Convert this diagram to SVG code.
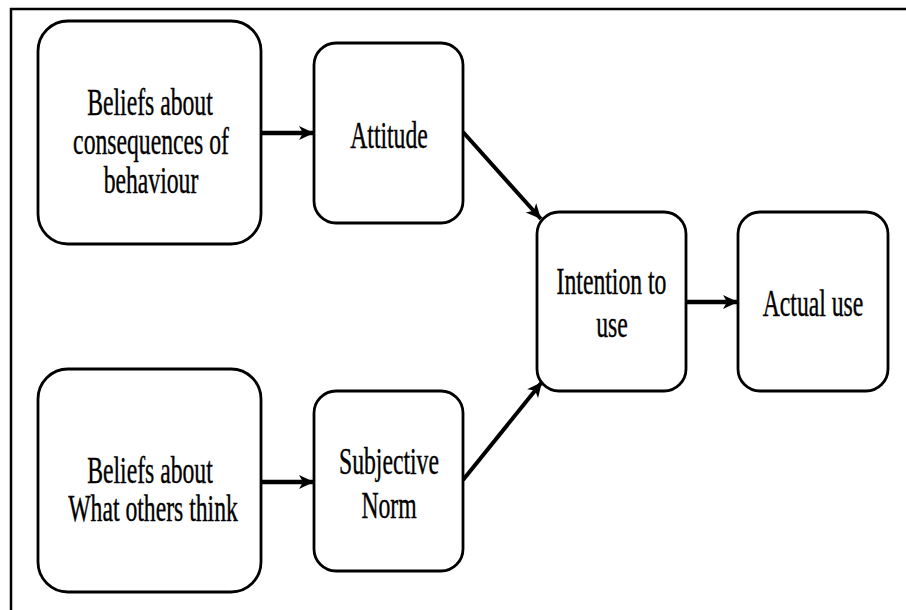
<svg xmlns="http://www.w3.org/2000/svg" width="906" height="610" viewBox="0 0 906 610">
  <style>
    .box { fill: #ffffff; stroke: #000000; stroke-width: 2.8; }
    .lbl { font-family: "Liberation Serif", "Times New Roman", serif; font-size: 37px; fill: #000000; stroke: #000000; stroke-width: 0.4; text-anchor: middle; }
    .frame { stroke: #000000; stroke-width: 2.5; fill: none; }
    .arrow { stroke: #000000; fill: none; stroke-linecap: butt; }
  </style>
  <defs>
    <marker id="head" markerUnits="userSpaceOnUse" viewBox="0 0 16 16" markerWidth="16" markerHeight="16" refX="15" refY="8" orient="auto">
      <path d="M0,1 L15,8 L0,15 L4,8 Z" fill="#000000"/>
    </marker>
  </defs>

  <rect width="906" height="610" fill="#ffffff"/>

  <!-- frame: top and left rule -->
  <g id="frame">
    <line class="frame" x1="10" y1="9" x2="906" y2="9"/>
    <line class="frame" x1="11" y1="8" x2="11" y2="610"/>
  </g>

  <g id="connectors">
    <line class="arrow" stroke-width="4.5" x1="261" y1="133" x2="314" y2="133" marker-end="url(#head)"/>
    <line class="arrow" stroke-width="4.5" x1="261" y1="482" x2="314" y2="482" marker-end="url(#head)"/>
    <line class="arrow" stroke-width="4.5" x1="686" y1="302" x2="738" y2="302" marker-end="url(#head)"/>
    <line class="arrow" stroke-width="4" x1="463" y1="132" x2="541" y2="219" marker-end="url(#head)"/>
    <line class="arrow" stroke-width="4" x1="463" y1="480" x2="542" y2="382" marker-end="url(#head)"/>
  </g>

  <!-- labels are set in a condensed serif: each line is squeezed horizontally about its centre -->
  <g id="beliefs-consequences">
    <rect class="box" x="38" y="21" width="223" height="223" rx="30" ry="30"/>
    <text class="lbl" transform="translate(150 115) scale(0.64 1)">Beliefs about</text>
    <text class="lbl" transform="translate(151 154) scale(0.64 1)">consequences of</text>
    <text class="lbl" transform="translate(151 193) scale(0.64 1)">behaviour</text>
  </g>

  <g id="attitude">
    <rect class="box" x="314" y="43" width="149" height="180" rx="22" ry="22"/>
    <text class="lbl" transform="translate(389 148) scale(0.64 1)">Attitude</text>
  </g>

  <g id="beliefs-others">
    <rect class="box" x="38" y="369" width="223" height="223" rx="30" ry="30"/>
    <text class="lbl" transform="translate(150 483) scale(0.64 1)">Beliefs about</text>
    <text class="lbl" transform="translate(153 521) scale(0.64 1)">What others think</text>
  </g>

  <g id="subjective-norm">
    <rect class="box" x="314" y="391" width="149" height="180" rx="22" ry="22"/>
    <text class="lbl" transform="translate(389 474) scale(0.64 1)">Subjective</text>
    <text class="lbl" transform="translate(389 518) scale(0.64 1)">Norm</text>
  </g>

  <g id="intention">
    <rect class="box" x="537" y="212" width="149" height="179" rx="22" ry="22"/>
    <text class="lbl" transform="translate(611.5 294) scale(0.64 1)">Intention to</text>
    <text class="lbl" transform="translate(612 337) scale(0.64 1)">use</text>
  </g>

  <g id="actual-use">
    <rect class="box" x="738" y="212" width="150" height="179" rx="22" ry="22"/>
    <text class="lbl" transform="translate(813 316) scale(0.64 1)">Actual use</text>
  </g>
</svg>
